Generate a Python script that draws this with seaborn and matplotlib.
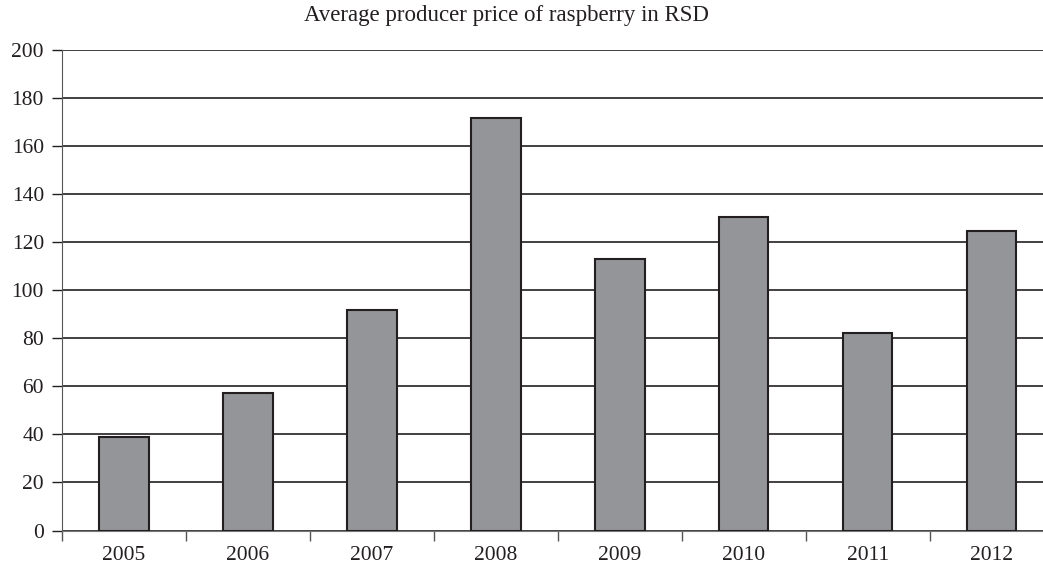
import numpy as np
import pandas as pd
import matplotlib
matplotlib.use("Agg")
import matplotlib.pyplot as plt
import seaborn as sns

years = ["2005", "2006", "2007", "2008", "2009", "2010", "2011", "2012"]
prices = [38.9, 57.2, 91.8, 171.6, 112.9, 130.6, 82.1, 124.7]

df = pd.DataFrame({"year": years, "price": prices})

sns.set_style("white")
plt.rcParams["font.family"] = ["Liberation Serif", "DejaVu Serif"]

fig = plt.figure(figsize=(10.43, 5.67), dpi=100)
# plot area runs slightly past the right edge like the original crop
ax = fig.add_axes([62 / 1043, 1 - 530.5 / 567, (1053.5 - 62) / 1043, (530.5 - 50) / 567])

sns.barplot(data=df, x="year", y="price", color="#939598", edgecolor="#231f20",
            linewidth=1.5, width=0.40, saturation=1, ax=ax, zorder=3)

ax.set_ylim(0, 200)
ax.set_xlim(-0.5, 7.5)
ax.set_yticks(np.arange(0, 201, 20))
ax.yaxis.grid(True, color="#231f20", linewidth=1.2)
ax.set_axisbelow(True)

ax.set_xticks(np.arange(8))
ax.set_xticklabels(years)
ax.set_xticks(np.arange(-0.5, 7.0, 1.0), minor=True)
ax.tick_params(axis="x", which="major", length=0, pad=11, labelsize=15.5, colors="#231f20")
ax.tick_params(axis="x", which="minor", length=7, width=1, direction="out", bottom=True, color="#555555")
ax.tick_params(axis="y", length=7, width=1, direction="out", left=True, pad=6, labelsize=15.5,
               colors="#231f20")

for s in ["top", "right"]:
    ax.spines[s].set_visible(False)
ax.spines["left"].set_color("#555555")
ax.spines["bottom"].set_color("#777777")
ax.set_xlabel("")
ax.set_ylabel("")

fig.text(506 / 1043, 1 - 15 / 567, "Average producer price of raspberry in RSD",
         ha="center", va="center", fontsize=16.5, color="#231f20")

fig.savefig("out.png", dpi=100)
